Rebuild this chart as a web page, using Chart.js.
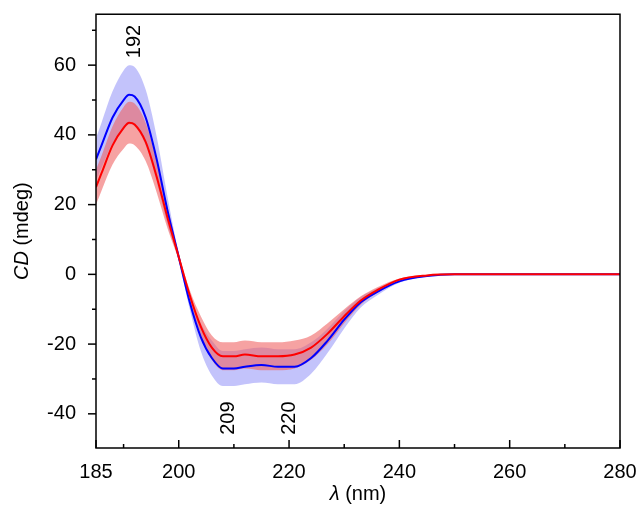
<!DOCTYPE html>
<html><head><meta charset="utf-8">
<script src="https://cdn.jsdelivr.net/npm/chart.js@4"></script>
<style>body{margin:0;background:#fff}#c{display:block}</style>
</head><body>
<canvas id="c" width="641" height="507"></canvas>
<script>
const wavelengths = [185,186,188,190,191,192,194,196,198,200,202,204,206,208,210,212,215,218,221,224,227,230,233,236,240,245,250,260,270,280];
const blueMean = [33,37,45,50,51.5,51,45,33,18,5,-8,-18,-24,-27,-27,-26.5,-26,-26.5,-26.5,-24,-19,-13,-8,-5,-2,-0.5,0,0,0,0];
const blueErr  = [6,6.5,7.5,8.5,8.5,8.5,8,6.5,4,1,2,4,5,5,5,5,5,5,5,4.5,3.5,2.5,1.5,1,0.4,0.1,0,0,0,0];
const redMean  = [25,29,37,42,43.5,43,38,28,16,5,-6,-15,-21,-23.5,-23.5,-23,-23.5,-23.5,-23,-21,-17,-12,-7.5,-4.5,-1.5,-0.3,0,0,0,0];
const redErr   = [5,5,5.5,6,6,6,5.5,4.5,3,1,1.5,3,3.5,4,4,4,4,4,4,3.5,3,2,1.2,0.8,0.3,0.1,0,0,0,0];
const xMajor = [185,200,220,240,260,280];
const yMajor = [-40,-20,0,20,40,60];
const yFrameTop = 74.6;
const peakLabels = [{x:192, y:62, text:'192'},{x:209, y:-46, text:'209'},{x:220, y:-46, text:'220'}];

const FONT = 'Arial, "Liberation Sans", sans-serif';
const pts = (m, e, s) => wavelengths.map((x, i) => ({x, y: m[i] + s * e[i]}));

function mixed(ctx, parts, x, y) {
  const fonts = parts.map(p => (p[1] ? 'italic ' : '') + '20px ' + FONT);
  let w = 0;
  parts.forEach((p, i) => { ctx.font = fonts[i]; w += ctx.measureText(p[0]).width; });
  let cx = x - w / 2;
  parts.forEach((p, i) => { ctx.font = fonts[i]; ctx.fillText(p[0], cx, y); cx += ctx.measureText(p[0]).width; });
}

const framePlugin = {
  id: 'frame',
  afterDraw(chart) {
    const {ctx, chartArea: a, scales: {x, y}} = chart;
    const top = y.getPixelForValue(yFrameTop);
    ctx.save();
    ctx.strokeStyle = '#000'; ctx.lineWidth = 1.5;
    ctx.strokeRect(a.left, top, a.right - a.left, a.bottom - top);
    for (let v = 185; v <= 280; v += 5) {
      if (v % 10 !== 0 && v !== 185) continue;
      const px = x.getPixelForValue(v);
      const len = xMajor.includes(v) ? 8 : 4;
      ctx.beginPath(); ctx.moveTo(px, a.bottom); ctx.lineTo(px, a.bottom - len); ctx.stroke();
    }
    for (let v = -40; v <= 70; v += 10) {
      const py = y.getPixelForValue(v);
      const len = v % 20 === 0 ? 8 : 4;
      ctx.beginPath(); ctx.moveTo(a.left, py); ctx.lineTo(a.left - len, py); ctx.stroke();
    }
    ctx.fillStyle = '#000'; ctx.font = '20px ' + FONT;
    ctx.textBaseline = 'middle'; ctx.textAlign = 'left';
    peakLabels.forEach(p => {
      ctx.save();
      ctx.translate(x.getPixelForValue(p.x), y.getPixelForValue(p.y));
      ctx.rotate(-Math.PI / 2);
      ctx.fillText(p.text, 0, 0);
      ctx.restore();
    });
    mixed(ctx, [['λ', true], [' (nm)', false]], (a.left + a.right) / 2, 494);
    ctx.save();
    ctx.translate(22, (top + a.bottom) / 2);
    ctx.rotate(-Math.PI / 2);
    mixed(ctx, [['CD', true], [' (mdeg)', false]], 0, 0);
    ctx.restore();
    ctx.restore();
  }
};

const line = {pointRadius: 0, cubicInterpolationMode: 'monotone'};

new Chart(document.getElementById('c'), {
  type: 'line',
  data: {
    datasets: [
      {...line, data: pts(redMean, redErr, 0), borderColor: '#ff0000', borderWidth: 2, fill: false},
      {...line, data: pts(blueMean, blueErr, 0), borderColor: '#0000ff', borderWidth: 2, fill: false},
      {...line, data: pts(redMean, redErr, 1), borderWidth: 0, fill: '+1', backgroundColor: 'rgba(240,100,100,0.6)'},
      {...line, data: pts(redMean, redErr, -1), borderWidth: 0, fill: false},
      {...line, data: pts(blueMean, blueErr, 1), borderWidth: 0, fill: '+1', backgroundColor: 'rgba(180,180,250,0.8)'},
      {...line, data: pts(blueMean, blueErr, -1), borderWidth: 0, fill: false}
    ]
  },
  options: {
    responsive: false, animation: false,
    layout: {padding: {top: 14, right: 21, left: 0, bottom: 0}},
    plugins: {legend: {display: false}, tooltip: {enabled: false}},
    scales: {
      x: {
        type: 'linear', min: 185, max: 280,
        afterBuildTicks: s => { s.ticks = xMajor.map(v => ({value: v})); },
        afterFit: s => { s.height = 59; },
        grid: {display: false}, border: {display: false},
        ticks: {color: '#000', font: {size: 20, family: FONT}, padding: 4, maxRotation: 0}
      },
      y: {
        min: -49.8, max: 71.8,
        afterBuildTicks: s => { s.ticks = yMajor.map(v => ({value: v})); },
        afterFit: s => { s.width = 96; },
        grid: {display: false}, border: {display: false},
        ticks: {color: '#000', font: {size: 20, family: FONT}, padding: 12}
      }
    }
  },
  plugins: [framePlugin]
});
</script>
</body></html>
